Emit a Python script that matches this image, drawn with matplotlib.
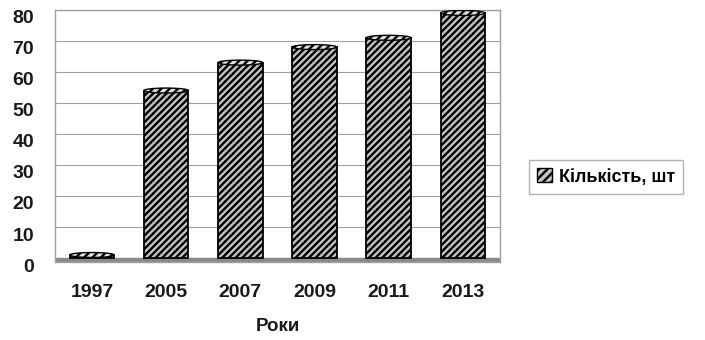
import matplotlib
matplotlib.use("Agg")
import matplotlib.pyplot as plt
from matplotlib.patches import Ellipse, Patch
from matplotlib.transforms import ScaledTranslation

plt.rcParams['font.family'] = ['Liberation Sans', 'DejaVu Sans']
plt.rcParams['hatch.linewidth'] = 1.7

years = ['1997', '2005', '2007', '2009', '2011', '2013']
counts = [1, 54, 63, 68, 71, 79]
series_name = 'Кількість, шт'
x_title = 'Роки'
y_ticks = [0, 10, 20, 30, 40, 50, 60, 70, 80]

fig = plt.figure(figsize=(7.05, 3.4), dpi=100)
ax = fig.add_axes([0.078, 0.229, 0.631, 0.742])

xs = range(len(years))
bw = 0.6
face = '#c4c4c4'
bars = ax.bar(xs, counts, width=bw, color=face, edgecolor='black',
              hatch='/////', linewidth=1.3, zorder=3)

# cylinder top ellipses (data-driven)
for x, v in zip(xs, counts):
    ax.add_patch(Ellipse((x, v), bw, 1.6, facecolor='#e0e0e0', edgecolor='black',
                         hatch='////', linewidth=1.0, zorder=4))

ax.set_xlim(-0.5, len(years) - 0.5)
ax.set_ylim(-1.3, 80)
ax.axhspan(-1.3, 0, color='#8a8a8a', zorder=2)
ax.set_yticks(y_ticks)
ax.set_yticklabels([str(t) for t in y_ticks], fontsize=14, fontweight='bold', color='#1a1a1a')
ax.set_xticks(list(xs))
ax.set_xticklabels(years, fontsize=14, fontweight='bold', color='#1a1a1a')
ax.tick_params(axis='x', length=0, pad=16)
ax.tick_params(axis='y', length=0, pad=15)
shift = ScaledTranslation(0, -5 / 72, fig.dpi_scale_trans)
for lab in ax.get_yticklabels():
    lab.set_transform(lab.get_transform() + shift)
ax.yaxis.grid(True, color='#a0a0a0', linewidth=0.8, zorder=0)
ax.set_axisbelow(True)
for s in ax.spines.values():
    s.set_color('#a0a0a0')
    s.set_linewidth(1.0)
ax.set_xlabel(x_title, fontsize=13.5, fontweight='bold', color='#1a1a1a', labelpad=12)

handle = Patch(facecolor=face, edgecolor='black', hatch='////')
fig.legend([handle], [series_name], loc='center left',
           bbox_to_anchor=(0.738, 1 - 177 / 340), frameon=True, fancybox=False,
           edgecolor='#a0a0a0', prop={'size': 13, 'weight': 'bold'},
           handlelength=0.8, handleheight=0.8, handletextpad=0.4, borderpad=0.45)

fig.savefig('out.png', dpi=100)
